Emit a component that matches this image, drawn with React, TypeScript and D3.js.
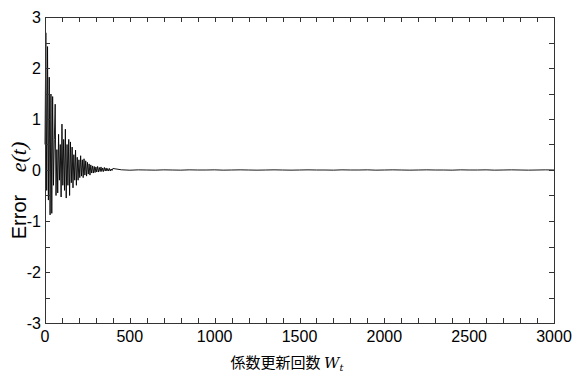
import * as d3 from 'd3'
import React, { useEffect, useRef } from 'react';

// Error signal, one value every 5 iterations (0..400)
const headStep = 5
const headValues = [
    0.5, 2.69, -0.4, 2.42, -0.59, 1.82, -0.88, 1.49, -0.85, 1.44,
    -0.3, 0.6, 1.29, -0.5, 0.4, -0.45, 0.7, -0.2, 0.5, -0.53,
    0.9, -0.3, 0.6, -0.4, 0.8, -0.55, 0.5, -0.3, 0.6, -0.5,
    0.55, -0.25, 0.45, -0.35, 0.3, -0.2, 0.39, -0.3, 0.25, -0.2,
    0.2, -0.15, 0.28, -0.12, 0.2, -0.15, 0.22, -0.1, 0.18, -0.12,
    0.15, -0.08, 0.12, -0.1, 0.1, -0.06, 0.08, -0.06, 0.07, -0.05,
    0.06, -0.04, 0.07, -0.04, 0.05, -0.03, 0.06, -0.03, 0.04, -0.03,
    0.05, -0.02, 0.04, -0.02, 0.03, -0.02, 0.03, -0.02, 0.02, -0.01,
    0.03,
]

// Tail after convergence, one value every 50 iterations (450..3000)
const tailStart = 450
const tailStep = 50
const tailValues = [
    0.004, -0.004, 0.003, 0, -0.003, 0.003, 0, -0.003, 0.003, 0,
    0, 0.003, -0.003, 0, 0.003, 0, -0.003, 0, 0.003, 0,
    -0.003, 0, 0.003, 0, 0, -0.003, 0.003, 0, 0, 0.003,
    -0.003, 0, 0.003, 0, -0.003, 0, 0.003, 0, 0, -0.003,
    0.003, 0, 0, 0.003, -0.003, 0, 0.003, 0, -0.003, 0,
    0.003, 0,
]

const xTickLabels = [0, 500, 1000, 1500, 2000, 2500, 3000]
const yTickLabels = [-3, -2, -1, 0, 1, 2, 3]

const App = () => {
    const myRef = useRef<SVGSVGElement>(null);

    useEffect(() => {
        const svg = d3.select(myRef.current)
        svg.selectAll('*').remove()

        const margin = { top: 17, right: 19, bottom: 55, left: 45 }
        const w = 573, h = 378
        const graphW = w - margin.left - margin.right
        const graphH = h - margin.top - margin.bottom

        const data = headValues.map((v, i) => ({ n: i * headStep, v }))
            .concat(tailValues.map((v, i) => ({ n: tailStart + i * tailStep, v })))

        const x = d3.scaleLinear().domain([0, 3000]).range([0, graphW])
        const y = d3.scaleLinear().domain([-3, 3]).range([graphH, 0])

        const g = svg.append('g')
            .attr('transform', `translate(${margin.left}, ${margin.top})`)

        // Signal
        const line = d3.line<{ n: number, v: number }>()
            .x(d => x(d.n))
            .y(d => y(d.v))

        g.append('path')
            .datum(data)
            .attr('d', line)
            .attr('fill', 'none')
            .attr('stroke', '#000')
            .attr('stroke-width', 0.9)

        // Frame
        g.append('rect')
            .attr('x', 0.5).attr('y', 0.5)
            .attr('width', graphW).attr('height', graphH)
            .attr('fill', 'none')
            .attr('stroke', '#333')
            .attr('stroke-width', 1)

        const tickLen = 5
        const xMinor = d3.range(100, 3000, 100)
        const yMinor = d3.range(-2.5, 3, 0.5)

        // Inward ticks on all four sides
        xMinor.forEach(t => {
            const px = Math.round(x(t)) + 0.5
            g.append('line').attr('x1', px).attr('x2', px)
                .attr('y1', graphH).attr('y2', graphH - tickLen)
                .attr('stroke', '#333')
            g.append('line').attr('x1', px).attr('x2', px)
                .attr('y1', 0).attr('y2', tickLen)
                .attr('stroke', '#333')
        })
        yMinor.forEach(t => {
            const py = Math.round(y(t)) + 0.5
            g.append('line').attr('x1', 0).attr('x2', tickLen)
                .attr('y1', py).attr('y2', py)
                .attr('stroke', '#333')
            g.append('line').attr('x1', graphW).attr('x2', graphW - tickLen)
                .attr('y1', py).attr('y2', py)
                .attr('stroke', '#333')
        })

        const font = '"Liberation Sans", Arial, sans-serif'

        // Tick labels
        g.selectAll('.xl')
            .data(xTickLabels)
            .enter()
            .append('text')
            .attr('x', d => x(d))
            .attr('y', graphH + 19)
            .attr('text-anchor', 'middle')
            .style('font-family', font)
            .style('font-size', '16px')
            .text(d => d)

        g.selectAll('.yl')
            .data(yTickLabels)
            .enter()
            .append('text')
            .attr('x', -4)
            .attr('y', d => y(d) + 6)
            .attr('text-anchor', 'end')
            .style('font-family', font)
            .style('font-size', '16px')
            .text(d => d)

        // X axis title
        const xt = svg.append('text')
            .attr('x', 287)
            .attr('y', 368)
            .attr('text-anchor', 'middle')
            .style('font-size', '15px')
        xt.append('tspan')
            .style('font-family', '"Noto Sans CJK JP", sans-serif')
            .text('係数更新回数 ')
        xt.append('tspan')
            .style('font-family', '"DejaVu Serif", serif')
            .style('font-style', 'italic')
            .text('W')
        xt.append('tspan')
            .style('font-family', '"DejaVu Serif", serif')
            .style('font-style', 'italic')
            .style('font-size', '10px')
            .attr('dy', 3)
            .text('t')

        // Y axis title
        svg.append('text')
            .attr('transform', 'translate(26, 217) rotate(-90)')
            .attr('text-anchor', 'middle')
            .style('font-family', font)
            .style('font-size', '20px')
            .text('Error')
        svg.append('text')
            .attr('transform', 'translate(26, 157) rotate(-90)')
            .attr('text-anchor', 'middle')
            .style('font-family', '"Liberation Serif", serif')
            .style('font-style', 'italic')
            .style('font-size', '22px')
            .text('e(t)')
    }, []);

    return (
        <svg ref={myRef} width={573} height={378}
            style={{ position: 'absolute', left: 0, top: 0, background: '#fff' }} />
    );
}

export default App;
